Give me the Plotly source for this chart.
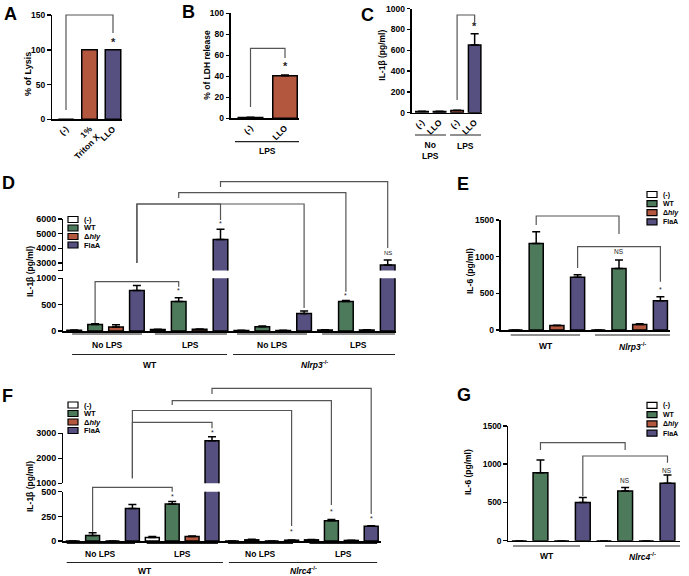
import plotly.graph_objects as go

W, H = 689, 576
GREEN = "#4e7a5c"
PURPLE = "#565081"
BROWN = "#b3583f"
WHITE = "#ffffff"
FONT = "Liberation Sans, Arial, sans-serif"

# ---------------- data ----------------
a_categories = ["(-)", "1%<br>Triton X", "LLO"]
a_lysis = [0, 100, 100]

b_categories = ["(-)", "LLO"]
b_ldh = [0.7, 40.5]
b_ldh_err = [0.2, 0.8]

c_categories = ["(-)", "LLO", "(-)", "LLO"]
c_il1b = [12, 12, 20, 650]
c_il1b_err = [2, 2, 3, 110]

strains = ["(-)", "WT", "Δ<i>hly</i>", "FlaA"]

d_il1b = [15, 125, 75, 770, 30, 560, 35, 4600, 10, 80, 10, 330, 20, 560, 20, 2870]
d_il1b_err = [3, 12, 45, 95, 5, 70, 5, 700, 2, 15, 3, 50, 3, 20, 3, 340]

e_il6 = [0, 1180, 60, 720, 0, 840, 75, 400]
e_il6_err = [0, 160, 5, 35, 0, 115, 10, 55]

f_il1b = [0, 55, 0, 330, 35, 375, 45, 2700, 0, 12, 0, 8, 12, 205, 6, 150]
f_il1b_err = [0, 28, 0, 40, 10, 25, 5, 160, 0, 5, 0, 3, 3, 12, 2, 5]

g_il6 = [0, 890, 0, 500, 0, 650, 0, 750]
g_il6_err = [0, 165, 0, 65, 0, 45, 0, 110]

NLRP3 = "<i>Nlrp3</i><sup>-/-</sup>"
NLRC4 = "<i>Nlrc4</i><sup>-/-</sup>"

# ---------------- helpers ----------------
def fx(p):
    return p / W


def fy(p):
    return 1 - p / H


layout = dict(
    width=W, height=H, margin=dict(l=0, r=0, t=0, b=0),
    paper_bgcolor="white", plot_bgcolor="white",
    font=dict(family=FONT, color="black"),
    showlegend=False, template="none",
)
shapes, annotations = [], []
fig = go.Figure()
AX = {}


def axes(n, xpx, ypx, c0, s, yr, ytv, ytt=None, xvisible=True, xticks=None,
         tsize=8.5):
    xk = "xaxis" if n == 1 else f"xaxis{n}"
    yk = "yaxis" if n == 1 else f"yaxis{n}"
    xid = "x" if n == 1 else f"x{n}"
    yid = "y" if n == 1 else f"y{n}"
    xr = [(xpx[0] - c0) / s, (xpx[1] - c0) / s]
    xa = dict(domain=[fx(xpx[0]), fx(xpx[1])], range=xr, anchor=yid,
              showgrid=False, zeroline=False, showline=xvisible,
              linecolor="black", linewidth=1.5, ticks="",
              showticklabels=False, visible=xvisible, fixedrange=True)
    if xticks is not None:
        xa.update(showticklabels=True, tickmode="array",
                  tickvals=list(range(len(xticks))), ticktext=xticks,
                  tickangle=-45,
                  tickfont=dict(size=tsize, family=FONT, weight="bold",
                                color="black"))
    ya = dict(domain=[fy(ypx[1]), fy(ypx[0])], range=yr, anchor=xid,
              showgrid=False, zeroline=False, showline=True,
              linecolor="black", linewidth=1.5, ticks="outside", ticklen=3.5,
              tickwidth=1.5, tickcolor="black", tickmode="array",
              tickvals=ytv, ticktext=ytt if ytt else [str(v) for v in ytv],
              tickfont=dict(size=tsize, family=FONT, weight="bold",
                            color="black"), fixedrange=True)
    layout[xk] = xa
    layout[yk] = ya
    AX[n] = (xid, yid)


def bars(n, values, colors, width, err=None):
    xid, yid = AX[n]
    kw = {}
    if err is not None:
        kw["error_y"] = dict(type="data", symmetric=False, array=err,
                             arrayminus=[0] * len(err), color="black",
                             thickness=1.5, width=4)
    fig.add_trace(go.Bar(x=list(range(len(values))), y=values, width=width,
                         marker=dict(color=colors,
                                     line=dict(color="black", width=1.5)),
                         xaxis=xid, yaxis=yid, hoverinfo="skip", **kw))


def bracket(n, i1, i2, top, lend, rend, label=None, lpos=None, size=7,
            lx=None, bold=False):
    xid = AX[n][0]
    path = (f"M {i1},{fy(lend)} L {i1},{fy(top)} L {i2},{fy(top)} "
            f"L {i2},{fy(rend)}")
    shapes.append(dict(type="path", path=path, xref=xid, yref="paper",
                       line=dict(color="#555", width=1.2)))
    if label:
        annotations.append(dict(x=i2 if lx is None else lx, y=fy(lpos),
                                xref=xid, yref="paper", text=label,
                                showarrow=False,
                                font=dict(size=size, color="#222",
                                          family=FONT,
                                          weight="bold" if bold else "normal"),
                                xanchor="center", yanchor="middle"))


def text(x, y, t, size=8.5, xref="paper", angle=0, anchor="center",
         bold=True, color="black"):
    annotations.append(dict(x=x if xref != "paper" else fx(x), y=fy(y),
                            xref=xref, yref="paper", text=t,
                            showarrow=False, textangle=angle,
                            xanchor=anchor, yanchor="middle",
                            font=dict(size=size, family=FONT, color=color,
                                      weight="bold" if bold else "normal")))


def hline(n, x1, x2, y, color="#222"):
    shapes.append(dict(type="line", xref=AX[n][0], yref="paper", x0=x1,
                       x1=x2, y0=fy(y), y1=fy(y),
                       line=dict(color=color, width=1.2)))


def legend(x0, y0, dy, size=7):
    cols = [WHITE, GREEN, BROWN, PURPLE]
    for i, (c, lab) in enumerate(zip(cols, strains)):
        yc = y0 + i * dy
        shapes.append(dict(type="rect", xref="paper", yref="paper",
                           x0=fx(x0), x1=fx(x0 + 10), y0=fy(yc + 3),
                           y1=fy(yc - 3), fillcolor=c,
                           line=dict(color="black", width=1.2)))
        text(x0 + 14, yc, lab, size=size, anchor="left")


cyc = [WHITE, GREEN, BROWN, PURPLE]

# ---------------- A ----------------
axes(1, (52, 122), (15, 119.3), 66, 23.5, [0, 150], [0, 50, 100, 150],
     xticks=a_categories)
bars(1, a_lysis, [WHITE, BROWN, PURPLE], 0.66)
bracket(1, 0, 2, 15, 110, 33, "*", 42, size=11, bold=True)
text(28, 74, "% of Lysis", size=9, angle=-90)
text(10, 14, "A", size=18)

# ---------------- B ----------------
axes(2, (230.7, 299), (13.3, 118.3), 250.5, 34.5, [0, 100],
     [0, 20, 40, 60, 80, 100], xticks=b_categories)
bars(2, b_ldh, [WHITE, BROWN], 0.71, b_ldh_err)
bracket(2, 0, 1, 48.3, 107, 58, "*", 66, size=11, bold=True)
hline(2, -0.45, 1.43, 141.7)
text(0.5, 150.5, "LPS", xref="x2")
text(206.7, 65, "% of LDH release", size=8.5, angle=-90)
text(189, 12, "B", size=18)

# ---------------- C ----------------
axes(3, (411.7, 482), (8.7, 112.7), 422, 17.55, [0, 1000],
     [0, 200, 400, 600, 800, 1000], xticks=c_categories)
bars(3, c_il1b, [WHITE, PURPLE, BROWN, PURPLE], 0.71, c_il1b_err)
bracket(3, 2, 3, 15, 100, 22, "*", 26, size=11, bold=True)
hline(3, -0.4, 1.37, 135)
hline(3, 1.6, 3.36, 135)
text(0.5, 150.5, "No<br>LPS", xref="x3")
text(2.5, 145.5, "LPS", xref="x3")
text(381.7, 55, "IL-1β (pg/ml)", size=8.5, angle=-90)
text(367, 15, "C", size=18)

# ---------------- D (broken axis) ----------------
axes(4, (63, 396), (278.3, 331), 74.2, 20.9, [0, 1000], [0, 500, 1000],
     tsize=9)
axes(5, (63, 396), (219, 270.5), 74.2, 20.9, [2490, 6000],
     [2490, 3000, 4000, 5000, 6000], ["", "3000", "4000", "5000", "6000"],
     xvisible=False, tsize=9)
dcol = cyc * 4
bars(4, d_il1b, dcol, 0.7, d_il1b_err)
bars(5, d_il1b, dcol, 0.7, d_il1b_err)
bracket(4, 1, 5, 281.7, 323, 286.7, "*", 290.5)
bracket(4, 3, 7, 204, 263, 220, "*", 224)
bracket(4, 3, 11, 204, 263, 308, "*", 315)
bracket(4, 5, 13, 192.7, 198, 291.7, "*", 295.5)
bracket(4, 7, 15, 181.7, 187, 248, "NS", 252.5, size=6)
for a, b, lab in [(-0.1, 3.24, "No LPS"), (3.86, 7.31, "LPS"),
                  (7.79, 11.14, "No LPS"), (11.86, 15.35, "LPS")]:
    hline(4, a, b, 334)
    text((a + b) / 2, 344.5, lab, xref="x4")
for a, b, lab in [(-0.1, 7.31, "WT"), (7.6, 15.35, NLRP3)]:
    hline(4, a, b, 354.5)
    text((a + b) / 2, 364.5, lab, xref="x4")
legend(68, 219.5, 8.5, size=7.5)
text(30, 272, "IL-1β (pg/ml)", size=8.5, angle=-90)
text(8, 182.5, "D", size=18)

# ---------------- E ----------------
axes(6, (500.7, 670), (220, 330), 515.5, 20.7, [0, 1500],
     [0, 500, 1000, 1500])
bars(6, e_il6, cyc * 2, 0.68, e_il6_err)
bracket(6, 1, 5, 216, 225, 234)
text(5, 251.7, "NS", size=6.5, xref="x6", bold=False, color="#222")
bracket(6, 3, 7, 246.7, 268, 281.7, "*", 289)
hline(6, -0.23, 3.12, 335)
hline(6, 3.84, 7.46, 335)
text(1.45, 346, "WT", xref="x6")
text(5.65, 346, NLRP3, xref="x6")
legend(647, 194.5, 9.1)
text(470, 271, "IL-6 (pg/ml)", size=8.5, angle=-90)
text(463, 184, "E", size=18)

# ---------------- F (broken axis) ----------------
axes(7, (63, 381), (491.7, 541), 72.7, 19.9, [0, 500], [0, 250, 500],
     tsize=9)
axes(8, (63, 381), (433.3, 483.3), 72.7, 19.9, [1000, 3000],
     [1000, 2000, 3000], xvisible=False, tsize=9)
bars(7, f_il1b, dcol, 0.7, f_il1b_err)
bars(8, f_il1b, dcol, 0.7, f_il1b_err)
bracket(7, 1, 5, 487.3, 531.7, 491.7, "*", 496)
bracket(7, 3, 7, 422.3, 478.3, 428.3, "*", 432.7)
bracket(7, 3, 11, 410.5, 478.3, 526, "*", 531.7)
bracket(7, 5, 13, 400.7, 405, 505, "*", 511)
bracket(7, 7, 15, 388.3, 394, 514, "*", 518.5)
for a, b, lab in [(-0.3, 3.13, "No LPS"), (3.72, 7.3, "LPS"),
                  (7.8, 11.07, "No LPS"), (11.9, 15.3, "LPS")]:
    hline(7, a, b, 543.5)
    text((a + b) / 2, 553.5, lab, xref="x7")
for a, b, lab in [(-0.3, 7.55, "WT"), (7.85, 15.3, NLRC4)]:
    hline(7, a, b, 562.5)
    text((a + b) / 2, 570.5, lab, xref="x7")
legend(68, 405, 8.5, size=7.5)
text(30, 487, "IL-1β (pg/ml)", size=8.5, angle=-90)
text(7, 396, "F", size=18)

# ---------------- G ----------------
axes(9, (508.3, 680), (426, 540.7), 519.3, 21.17, [0, 1500],
     [0, 500, 1000, 1500])
bars(9, g_il6, cyc * 2, 0.7, g_il6_err)
bracket(9, 1, 5, 442.7, 450, 450)
bracket(9, 3, 7, 456, 496, 462.7, "NS", 470, size=6.5)
text(5, 480.7, "NS", size=6.5, xref="x9", bold=False, color="#222")
hline(9, -0.3, 2.87, 546)
hline(9, 4.05, 7.59, 546)
text(1.3, 556, "WT", xref="x9")
text(5.8, 556, NLRC4, xref="x9")
legend(647, 405.3, 9.3)
text(468, 472, "IL-6 (pg/ml)", size=8.5, angle=-90)
text(464, 395, "G", size=18)

layout["shapes"] = shapes
layout["annotations"] = annotations
fig.update_layout(**layout)
fig.write_html(
    "out.html",
    config={"displayModeBar": False, "staticPlot": True},
    post_script="document.body.style.margin='0';document.body.style.padding='0';",
)
